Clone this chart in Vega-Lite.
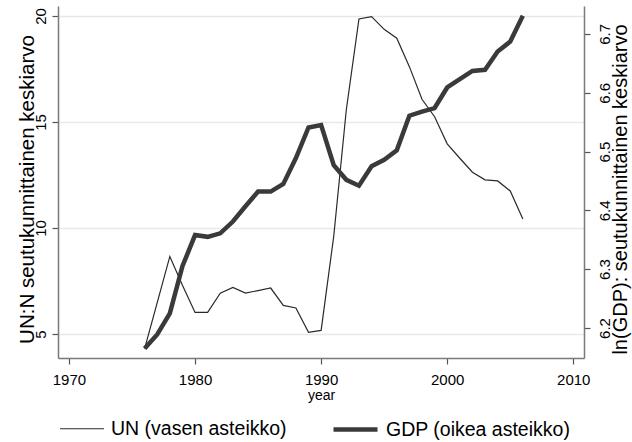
{
  "$schema": "https://vega.github.io/schema/vega-lite/v6.json",
  "width": 526,
  "height": 352,
  "autosize": {"type": "none"},
  "padding": {"left": 58, "top": 6, "right": 48, "bottom": 84},
  "background": "white",
  "config": {
    "view": {"stroke": null},
    "font": "Liberation Sans",
    "axis": {
      "domainColor": "#7a7a7a",
      "domainWidth": 1.5,
      "tickColor": "#555555",
      "tickSize": 6,
      "tickWidth": 1.2,
      "labelColor": "#000000",
      "labelFontSize": 15,
      "titleColor": "#000000",
      "titleFontWeight": "normal",
      "labelFont": "Liberation Sans",
      "titleFont": "Liberation Sans"
    },
    "legend": {
      "orient": "none",
      "legendX": 1,
      "legendY": 399,
      "direction": "horizontal",
      "symbolType": "stroke",
      "symbolSize": 1936,
      "labelFontSize": 19.5,
      "labelOffset": 6,
      "labelLimit": 0,
      "columnPadding": 37,
      "padding": 0,
      "labelColor": "#000000",
      "labelFont": "Liberation Sans"
    }
  },
  "data": {
    "values": [
      {"year": 1976, "series": "UN (vasen asteikko)", "value": 4.31},
      {"year": 1977, "series": "UN (vasen asteikko)", "value": 6.48},
      {"year": 1978, "series": "UN (vasen asteikko)", "value": 8.66},
      {"year": 1979, "series": "UN (vasen asteikko)", "value": 7.3},
      {"year": 1980, "series": "UN (vasen asteikko)", "value": 6.02},
      {"year": 1981, "series": "UN (vasen asteikko)", "value": 6.02},
      {"year": 1982, "series": "UN (vasen asteikko)", "value": 6.93},
      {"year": 1983, "series": "UN (vasen asteikko)", "value": 7.2},
      {"year": 1984, "series": "UN (vasen asteikko)", "value": 6.93},
      {"year": 1985, "series": "UN (vasen asteikko)", "value": 7.05},
      {"year": 1986, "series": "UN (vasen asteikko)", "value": 7.17},
      {"year": 1987, "series": "UN (vasen asteikko)", "value": 6.35},
      {"year": 1988, "series": "UN (vasen asteikko)", "value": 6.23},
      {"year": 1989, "series": "UN (vasen asteikko)", "value": 5.08},
      {"year": 1990, "series": "UN (vasen asteikko)", "value": 5.17},
      {"year": 1991, "series": "UN (vasen asteikko)", "value": 9.61},
      {"year": 1992, "series": "UN (vasen asteikko)", "value": 15.59},
      {"year": 1993, "series": "UN (vasen asteikko)", "value": 19.86},
      {"year": 1994, "series": "UN (vasen asteikko)", "value": 19.97},
      {"year": 1995, "series": "UN (vasen asteikko)", "value": 19.37},
      {"year": 1996, "series": "UN (vasen asteikko)", "value": 18.95},
      {"year": 1997, "series": "UN (vasen asteikko)", "value": 17.61},
      {"year": 1998, "series": "UN (vasen asteikko)", "value": 16.07},
      {"year": 1999, "series": "UN (vasen asteikko)", "value": 15.25},
      {"year": 2000, "series": "UN (vasen asteikko)", "value": 13.97},
      {"year": 2001, "series": "UN (vasen asteikko)", "value": 13.29},
      {"year": 2002, "series": "UN (vasen asteikko)", "value": 12.63},
      {"year": 2003, "series": "UN (vasen asteikko)", "value": 12.27},
      {"year": 2004, "series": "UN (vasen asteikko)", "value": 12.22},
      {"year": 2005, "series": "UN (vasen asteikko)", "value": 11.75},
      {"year": 2006, "series": "UN (vasen asteikko)", "value": 10.43},
      {"year": 1976, "series": "GDP (oikea asteikko)", "value": 6.165},
      {"year": 1977, "series": "GDP (oikea asteikko)", "value": 6.189},
      {"year": 1978, "series": "GDP (oikea asteikko)", "value": 6.225},
      {"year": 1979, "series": "GDP (oikea asteikko)", "value": 6.305},
      {"year": 1980, "series": "GDP (oikea asteikko)", "value": 6.358},
      {"year": 1981, "series": "GDP (oikea asteikko)", "value": 6.355},
      {"year": 1982, "series": "GDP (oikea asteikko)", "value": 6.361},
      {"year": 1983, "series": "GDP (oikea asteikko)", "value": 6.381},
      {"year": 1984, "series": "GDP (oikea asteikko)", "value": 6.407},
      {"year": 1985, "series": "GDP (oikea asteikko)", "value": 6.432},
      {"year": 1986, "series": "GDP (oikea asteikko)", "value": 6.432},
      {"year": 1987, "series": "GDP (oikea asteikko)", "value": 6.445},
      {"year": 1988, "series": "GDP (oikea asteikko)", "value": 6.489},
      {"year": 1989, "series": "GDP (oikea asteikko)", "value": 6.541},
      {"year": 1990, "series": "GDP (oikea asteikko)", "value": 6.545},
      {"year": 1991, "series": "GDP (oikea asteikko)", "value": 6.477},
      {"year": 1992, "series": "GDP (oikea asteikko)", "value": 6.452},
      {"year": 1993, "series": "GDP (oikea asteikko)", "value": 6.442},
      {"year": 1994, "series": "GDP (oikea asteikko)", "value": 6.475},
      {"year": 1995, "series": "GDP (oikea asteikko)", "value": 6.486},
      {"year": 1996, "series": "GDP (oikea asteikko)", "value": 6.502},
      {"year": 1997, "series": "GDP (oikea asteikko)", "value": 6.561},
      {"year": 1998, "series": "GDP (oikea asteikko)", "value": 6.568},
      {"year": 1999, "series": "GDP (oikea asteikko)", "value": 6.574},
      {"year": 2000, "series": "GDP (oikea asteikko)", "value": 6.609},
      {"year": 2001, "series": "GDP (oikea asteikko)", "value": 6.623},
      {"year": 2002, "series": "GDP (oikea asteikko)", "value": 6.637},
      {"year": 2003, "series": "GDP (oikea asteikko)", "value": 6.639},
      {"year": 2004, "series": "GDP (oikea asteikko)", "value": 6.67},
      {"year": 2005, "series": "GDP (oikea asteikko)", "value": 6.687},
      {"year": 2006, "series": "GDP (oikea asteikko)", "value": 6.731}
    ]
  },
  "encoding": {
    "x": {
      "field": "year",
      "type": "quantitative",
      "scale": {"domain": [1969.13, 2010.85], "nice": false, "zero": false},
      "axis": {
        "values": [1970, 1980, 1990, 2000, 2010],
        "format": "d",
        "grid": false,
        "title": "year",
        "titleFontSize": 14,
        "labelPadding": 8,
        "titlePadding": 1
      }
    },
    "color": {
      "field": "series",
      "type": "ordinal",
      "scale": {"domain": ["UN (vasen asteikko)", "GDP (oikea asteikko)"], "range": ["#2a2a2a", "#3a3a3a"]},
      "legend": {"title": null}
    },
    "strokeWidth": {
      "field": "series",
      "type": "ordinal",
      "scale": {"domain": ["UN (vasen asteikko)", "GDP (oikea asteikko)"], "range": [1.2, 4.5]},
      "legend": {"title": null}
    }
  },
  "layer": [
    {
      "transform": [{"filter": "datum.series === 'UN (vasen asteikko)'"}],
      "mark": {"type": "line"},
      "encoding": {
        "y": {
          "field": "value",
          "type": "quantitative",
          "scale": {"domain": [3.87, 20.47], "nice": false, "zero": false},
          "axis": {
            "orient": "left",
            "values": [5, 10, 15, 20],
            "grid": true,
            "gridColor": "#e8e8e8",
            "gridWidth": 1.5,
            "labelAngle": -90,
            "labelAlign": "center",
            "labelBaseline": "alphabetic",
            "labelPadding": 7,
            "title": "UN:N seutukunnittainen keskiarvo",
            "titleFontSize": 20.5,
            "titleAngle": 270,
            "titleAlign": "center",
            "titleBaseline": "alphabetic",
            "titleX": -25,
            "titleY": 183
          }
        }
      }
    },
    {
      "transform": [{"filter": "datum.series === 'GDP (oikea asteikko)'"}],
      "mark": {"type": "line"},
      "encoding": {
        "y": {
          "field": "value",
          "type": "quantitative",
          "scale": {"domain": [6.149, 6.7475], "nice": false, "zero": false},
          "axis": {
            "orient": "right",
            "values": [6.2, 6.3, 6.4, 6.5, 6.6, 6.7],
            "format": ".1f",
            "grid": false,
            "labelAngle": -90,
            "labelAlign": "center",
            "labelBaseline": "top",
            "labelPadding": 7,
            "title": "ln(GDP): seutukunnittainen keskiarvo",
            "titleFontSize": 20,
            "titleAngle": 270,
            "titleAlign": "center",
            "titleBaseline": "alphabetic",
            "titleX": 42,
            "titleY": 183
          }
        }
      }
    }
  ],
  "resolve": {"scale": {"y": "independent"}}
}
